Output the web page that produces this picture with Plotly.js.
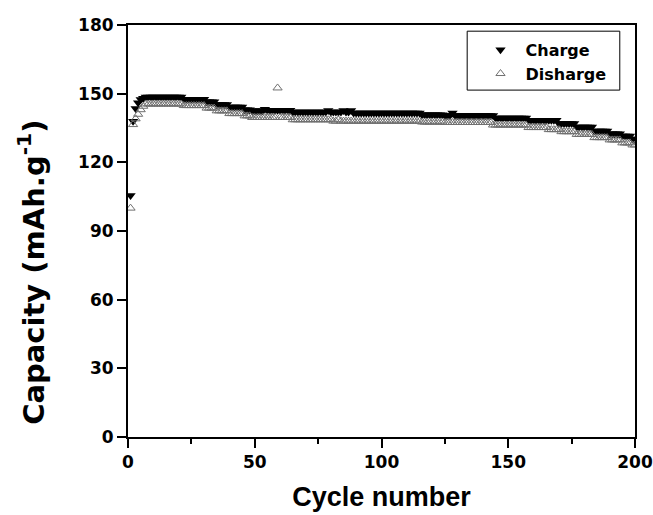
<!DOCTYPE html>
<html>
<head>
<meta charset="utf-8">
<script src="https://cdn.plot.ly/plotly-3.0.1.min.js"></script>
<style>
html,body{margin:0;padding:0;background:#fff;}
#chart{width:653px;height:515px;}
</style>
</head>
<body>
<div id="chart"></div>
<script>
// Cycle numbers 1..200
const cycles = [
  1,2,3,4,5,6,7,8,9,10,11,12,13,14,15,16,17,18,19,20,
  21,22,23,24,25,26,27,28,29,30,31,32,33,34,35,36,37,38,39,40,
  41,42,43,44,45,46,47,48,49,50,51,52,53,54,55,56,57,58,59,60,
  61,62,63,64,65,66,67,68,69,70,71,72,73,74,75,76,77,78,79,80,
  81,82,83,84,85,86,87,88,89,90,91,92,93,94,95,96,97,98,99,100,
  101,102,103,104,105,106,107,108,109,110,111,112,113,114,115,116,117,118,119,120,
  121,122,123,124,125,126,127,128,129,130,131,132,133,134,135,136,137,138,139,140,
  141,142,143,144,145,146,147,148,149,150,151,152,153,154,155,156,157,158,159,160,
  161,162,163,164,165,166,167,168,169,170,171,172,173,174,175,176,177,178,179,180,
  181,182,183,184,185,186,187,188,189,190,191,192,193,194,195,196,197,198,199,200
];

// Charge capacity (mAh/g)
const charge = [
  105.5,138.0,143.5,146.0,147.5,148.0,148.5,148.5,148.5,148.5,
  148.5,148.5,148.5,148.5,148.5,148.5,148.5,148.5,148.5,148.5,
  148.5,147.6,147.6,147.6,147.6,147.6,147.6,147.6,147.6,147.6,
  146.5,146.5,146.5,146.5,145.3,145.3,145.3,145.3,145.3,144.2,
  144.2,144.2,144.2,144.2,144.2,143.0,143.0,143.0,142.5,142.5,
  142.5,142.5,142.5,143.2,142.8,142.8,142.8,142.8,142.8,142.8,
  142.8,142.8,142.8,142.8,142.0,142.0,142.0,142.0,142.0,142.0,
  142.0,142.0,142.0,142.0,142.0,142.0,142.0,142.0,142.6,142.0,
  142.0,142.0,142.0,142.0,142.6,142.0,142.0,142.6,141.5,141.5,
  141.5,141.5,141.5,141.5,141.5,141.5,141.5,141.5,141.5,141.5,
  141.5,141.5,141.5,141.5,141.5,141.5,141.5,141.5,141.5,141.5,
  141.5,141.5,141.5,141.5,141.5,140.8,140.8,140.8,140.8,140.8,
  140.8,140.8,140.8,140.8,140.5,140.5,140.5,141.5,140.5,140.5,
  140.5,140.5,140.5,140.5,140.5,140.5,140.5,140.5,140.5,140.5,
  140.5,140.5,140.5,140.5,139.4,139.4,139.4,139.4,139.4,139.4,
  139.4,139.4,139.4,139.4,139.4,139.4,139.4,138.4,138.4,138.4,
  138.4,138.4,138.4,138.4,138.4,138.4,138.4,138.4,138.4,137.0,
  137.0,137.0,137.0,137.0,137.0,137.0,135.4,135.4,135.4,135.4,
  135.4,135.4,135.4,133.7,133.7,133.7,133.7,133.7,133.7,132.5,
  132.5,132.5,132.5,132.5,131.5,131.5,131.5,131.5,130.2,130.2
];

// Discharge capacity (mAh/g)
const discharge = [
  100.0,136.5,139.0,141.0,143.0,144.5,145.5,145.5,145.5,145.5,
  145.5,145.5,145.5,145.5,145.5,145.5,145.5,145.5,145.5,145.5,
  145.5,144.8,144.8,144.8,144.8,144.8,144.8,144.8,144.8,144.8,
  143.7,143.7,143.7,143.7,142.5,142.5,142.5,142.5,142.5,141.3,
  141.3,141.3,141.3,141.3,141.3,140.3,140.3,140.3,139.6,139.6,
  139.6,139.6,139.6,139.6,139.6,139.6,139.6,139.6,152.5,139.6,
  139.6,139.6,139.6,139.6,138.6,138.6,138.6,138.6,138.6,138.6,
  138.6,138.6,138.6,138.6,138.6,138.6,138.6,138.6,138.6,138.6,
  138.0,138.0,138.6,138.0,138.0,138.0,138.0,138.0,138.0,138.0,
  138.0,138.0,138.0,138.0,138.0,138.0,138.0,138.0,138.0,138.0,
  138.0,138.0,138.0,138.0,138.0,138.0,138.0,138.0,138.0,138.0,
  138.0,138.0,138.0,138.0,138.0,137.6,137.6,137.6,137.6,137.6,
  137.6,137.6,137.6,137.6,137.4,137.4,137.4,137.4,137.4,137.4,
  137.4,137.4,137.4,137.4,137.4,137.4,137.4,137.4,137.4,137.4,
  137.4,137.4,137.4,136.3,136.3,136.3,136.3,136.3,136.3,136.3,
  136.3,136.3,136.3,136.3,136.3,136.3,136.3,135.2,135.2,135.2,
  135.2,135.2,135.2,135.2,135.2,134.3,134.3,134.3,134.3,134.3,
  133.4,133.4,133.4,133.4,133.4,133.4,132.2,132.2,132.2,132.2,
  132.2,132.2,132.2,130.8,130.8,130.8,130.8,130.8,130.8,129.8,
  129.8,129.8,129.8,129.8,128.5,128.5,128.5,128.5,127.6,127.6
];

const seriesNames = ["Charge", "Disharge"];
const xTickVals = [0, 50, 100, 150, 200];
const yTickVals = [0, 30, 60, 90, 120, 150, 180];
const xTitle = 'Cycle number';
const yTitle = 'Capacity (mAh.g<sup>-1</sup>)';

const FONT = '"Liberation Sans", Arial, Helvetica, sans-serif';
const WIDE = '"DejaVu Sans", "Liberation Sans", Arial, sans-serif';

const traces = [
  {
    x: cycles, y: charge, name: seriesNames[0],
    type: 'scatter', mode: 'markers',
    marker: {symbol: 'triangle-down', size: 9, color: '#000000', line: {width: 0}}
  },
  {
    x: cycles, y: discharge, name: seriesNames[1],
    type: 'scatter', mode: 'markers',
    marker: {symbol: 'triangle-up-open', size: 8, color: '#707070', line: {width: 1, color: '#707070'}}
  }
];

const axisCommon = {
  showgrid: false, zeroline: false,
  showline: true, linecolor: '#000', linewidth: 2, mirror: true,
  ticks: 'outside', ticklen: 9, tickwidth: 2, tickcolor: '#000',
  tickfont: {family: WIDE, size: 17, color: '#000', weight: 'bold'}
};

const layout = {
  width: 653, height: 515,
  margin: {l: 128, r: 18, t: 25, b: 78, pad: 0},
  paper_bgcolor: '#fff', plot_bgcolor: '#fff',
  showlegend: true,
  legend: {
    x: 0.6854, y: 0.981, xanchor: 'left', yanchor: 'top',
    bgcolor: 'rgba(0,0,0,0)', borderwidth: 0,
    font: {family: WIDE, size: 16, color: '#000', weight: 'bold'},
    tracegroupgap: 0, itemwidth: 40
  },
  shapes: [{
    type: 'rect', xref: 'paper', yref: 'paper',
    x0: 0.669, x1: 0.970, y0: 0.842, y1: 0.985,
    line: {color: '#000', width: 1}, fillcolor: 'rgba(0,0,0,0)'
  }],
  annotations: [{
    text: yTitle, textangle: -90, showarrow: false,
    xref: 'paper', yref: 'paper', x: -0.19, y: 0.40,
    xanchor: 'center', yanchor: 'middle',
    font: {family: WIDE, size: 29, color: '#000', weight: 'bold'}
  }],
  xaxis: Object.assign({}, axisCommon, {
    range: [0, 200], tickvals: xTickVals,
    minor: {ticks: 'outside', ticklen: 5, tickwidth: 2, tickcolor: '#000', dtick: 25, tick0: 0, showgrid: false},
    title: {text: xTitle, standoff: 16,
      font: {family: FONT, size: 27, color: '#000', weight: 'bold'}}
  }),
  yaxis: Object.assign({}, axisCommon, {
    range: [0, 180], tickvals: yTickVals
  })
};

Plotly.newPlot('chart', traces, layout, {displayModeBar: false, staticPlot: true});
</script>
</body>
</html>
